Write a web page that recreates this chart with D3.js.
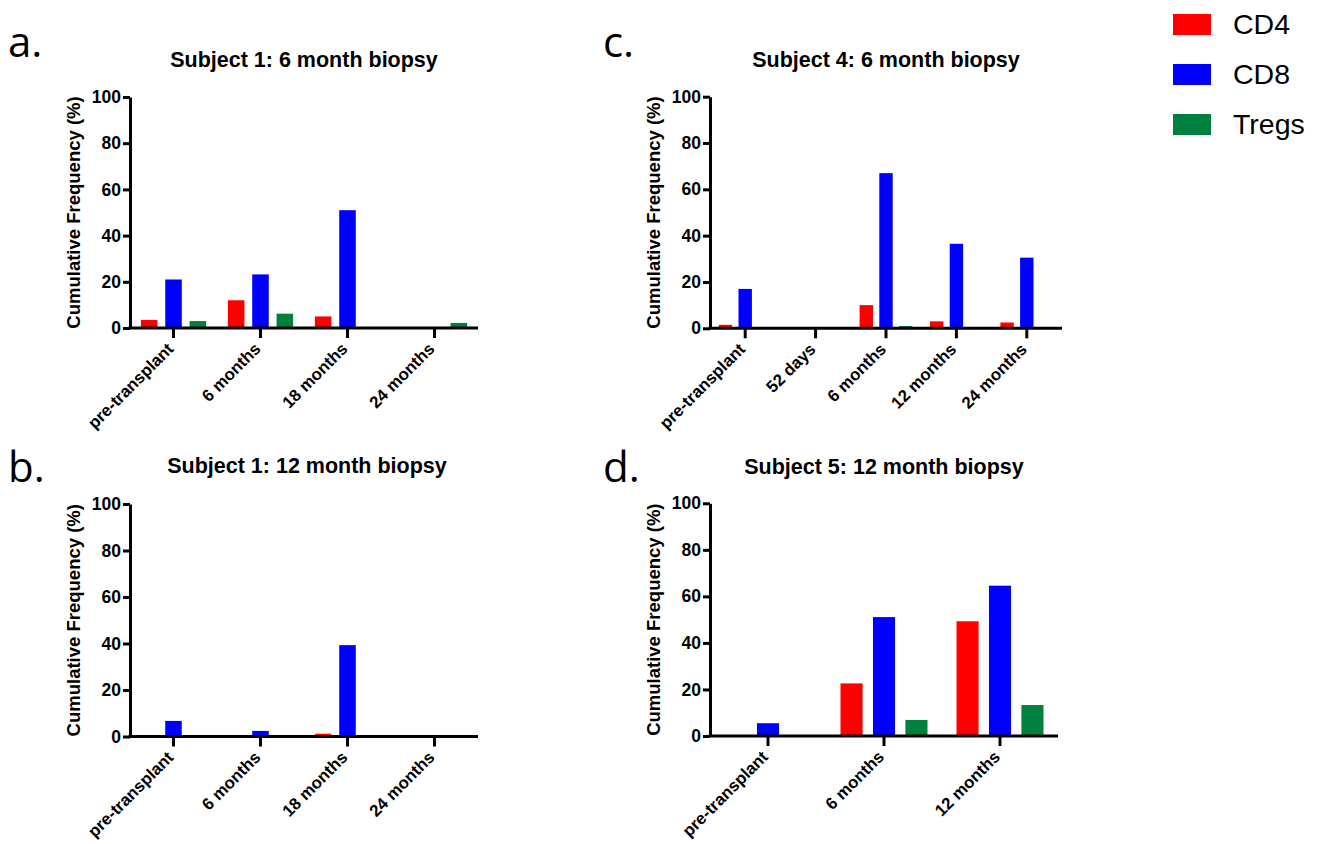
<!DOCTYPE html>
<html>
<head>
<meta charset="utf-8">
<script src="https://cdn.jsdelivr.net/npm/d3@7"></script>
<style>
  body { margin: 0; background: #fff; }
  svg text { font-family: "Liberation Sans", Arial, sans-serif; }
</style>
</head>
<body>
<div id="chart"></div>
<script>
// series and colours
const series = ["CD4", "CD8", "Tregs"];
const colors = ["#ff0000", "#0000ff", "#00803f"];
const yTicks = [0, 20, 40, 60, 80, 100];

// panel a: Subject 1, 6 month biopsy
const catsA = ["pre-transplant", "6 months", "18 months", "24 months"];
const cd4A = [3.5, 12, 5, 0];
const cd8A = [21, 23.2, 51, 0];
const tregA = [3, 6.2, 0, 2.2];

// panel b: Subject 1, 12 month biopsy
const catsB = ["pre-transplant", "6 months", "18 months", "24 months"];
const cd4B = [0, 0, 1.2, 0];
const cd8B = [6.7, 2.4, 39.3, 0];
const tregB = [0, 0, 0, 0];

// panel c: Subject 4, 6 month biopsy
const catsC = ["pre-transplant", "52 days", "6 months", "12 months", "24 months"];
const cd4C = [1.5, 0, 10, 3, 2.5];
const cd8C = [17, 0, 67, 36.5, 30.5];
const tregC = [0, 0, 1, 0, 0];

// panel d: Subject 5, 12 month biopsy
const catsD = ["pre-transplant", "6 months", "12 months"];
const cd4D = [0, 22.6, 49.3];
const cd8D = [5.5, 51.1, 64.6];
const tregD = [0, 6.9, 13.3];

const svg = d3.select("#chart").append("svg")
    .attr("width", 1322)
    .attr("height", 844);

// one panel = axes + grouped bars
function drawPanel(p) {
    const g = svg.append("g");
    const y = d3.scaleLinear().domain([0, 100]).range([p.y0, p.yTop]);
    const x0 = d3.scaleBand().domain(p.cats).range([p.xLeft, p.xRight]);
    const B = x0.bandwidth();
    const x1 = d3.scaleBand().domain(series)
        .range([0.125 * B, 0.875 * B]).paddingInner(0.32);

    const rows = p.cats.map((c, i) => ({ cat: c, vals: [p.cd4[i], p.cd8[i], p.treg[i]] }));

    g.selectAll("g.grp").data(rows).join("g")
        .attr("class", "grp")
        .attr("transform", d => `translate(${x0(d.cat)},0)`)
        .selectAll("rect")
        .data(d => d.vals.map((v, k) => ({ key: series[k], v: v, col: colors[k] })).filter(e => e.v > 0))
        .join("rect")
        .attr("x", e => x1(e.key))
        .attr("width", x1.bandwidth())
        .attr("y", e => y(e.v))
        .attr("height", e => y(0) - y(e.v))
        .attr("fill", e => e.col);

    // y axis
    const ya = g.append("g")
        .attr("transform", `translate(${p.xLeft},0)`)
        .call(d3.axisLeft(y).tickValues(yTicks).tickSize(7).tickSizeOuter(0).tickPadding(2));
    ya.select(".domain").attr("stroke-width", 3).attr("stroke", "#000");
    ya.selectAll(".tick line").attr("stroke-width", 3);
    ya.selectAll(".tick text").attr("font-size", 17.5).attr("font-weight", "bold").attr("fill", "#000");

    // x axis
    const xa = g.append("g")
        .attr("transform", `translate(0,${p.y0})`)
        .call(d3.axisBottom(x0).tickSize(10).tickSizeOuter(0));
    xa.select(".domain").attr("stroke-width", 3).attr("stroke", "#000")
        .attr("d", `M${p.xLeft - 1.5},0H${p.xRight}`);
    xa.selectAll(".tick line").attr("stroke-width", 3);
    xa.selectAll(".tick text")
        .attr("font-size", 16.8).attr("font-weight", "bold").attr("fill", "#000")
        .attr("text-anchor", "end")
        .attr("dy", null).attr("y", null)
        .attr("transform", "translate(1,22) rotate(-45)");

    // y label
    g.append("text")
        .attr("transform", `translate(${p.xLeft - 50},${(p.y0 + p.yTop) / 2}) rotate(-90)`)
        .attr("text-anchor", "middle")
        .attr("font-size", 18.5).attr("font-weight", "bold")
        .text("Cumulative Frequency (%)");

    // title
    g.append("text")
        .attr("x", p.titleX).attr("y", p.titleY)
        .attr("text-anchor", "middle")
        .attr("font-size", 21.5).attr("font-weight", "bold")
        .text(p.title);

    // panel letter
    g.append("text")
        .attr("x", p.letterX).attr("y", p.letterY)
        .attr("font-size", 42)
        .style("font-family", "'Open Sans', sans-serif")
        .text(p.letter);
}

drawPanel({ cats: catsA, cd4: cd4A, cd8: cd8A, treg: tregA,
    xLeft: 130, xRight: 478, y0: 328, yTop: 97,
    title: "Subject 1: 6 month biopsy", titleX: 304, titleY: 67,
    letter: "a.", letterX: 8, letterY: 57 });
drawPanel({ cats: catsB, cd4: cd4B, cd8: cd8B, treg: tregB,
    xLeft: 130, xRight: 478, y0: 736.5, yTop: 504,
    title: "Subject 1: 12 month biopsy", titleX: 307, titleY: 473,
    letter: "b.", letterX: 8, letterY: 482 });
drawPanel({ cats: catsC, cd4: cd4C, cd8: cd8C, treg: tregC,
    xLeft: 710, xRight: 1062, y0: 328.3, yTop: 96.7,
    title: "Subject 4: 6 month biopsy", titleX: 886, titleY: 67,
    letter: "c.", letterX: 603, letterY: 57 });
drawPanel({ cats: catsD, cd4: cd4D, cd8: cd8D, treg: tregD,
    xLeft: 710, xRight: 1058, y0: 736, yTop: 503.3,
    title: "Subject 5: 12 month biopsy", titleX: 884, titleY: 474,
    letter: "d.", letterX: 603, letterY: 482 });

// legend
const legend = svg.append("g").attr("transform", "translate(1173,14)");
const li = legend.selectAll("g").data(series).join("g")
    .attr("transform", (d, i) => `translate(0,${i * 50})`);
li.append("rect")
    .attr("width", 38).attr("height", 21)
    .attr("fill", (d, i) => colors[i]);
li.append("text")
    .attr("x", 60).attr("y", 20)
    .attr("font-size", 28.5)
    .text(d => d);
</script>
</body>
</html>
